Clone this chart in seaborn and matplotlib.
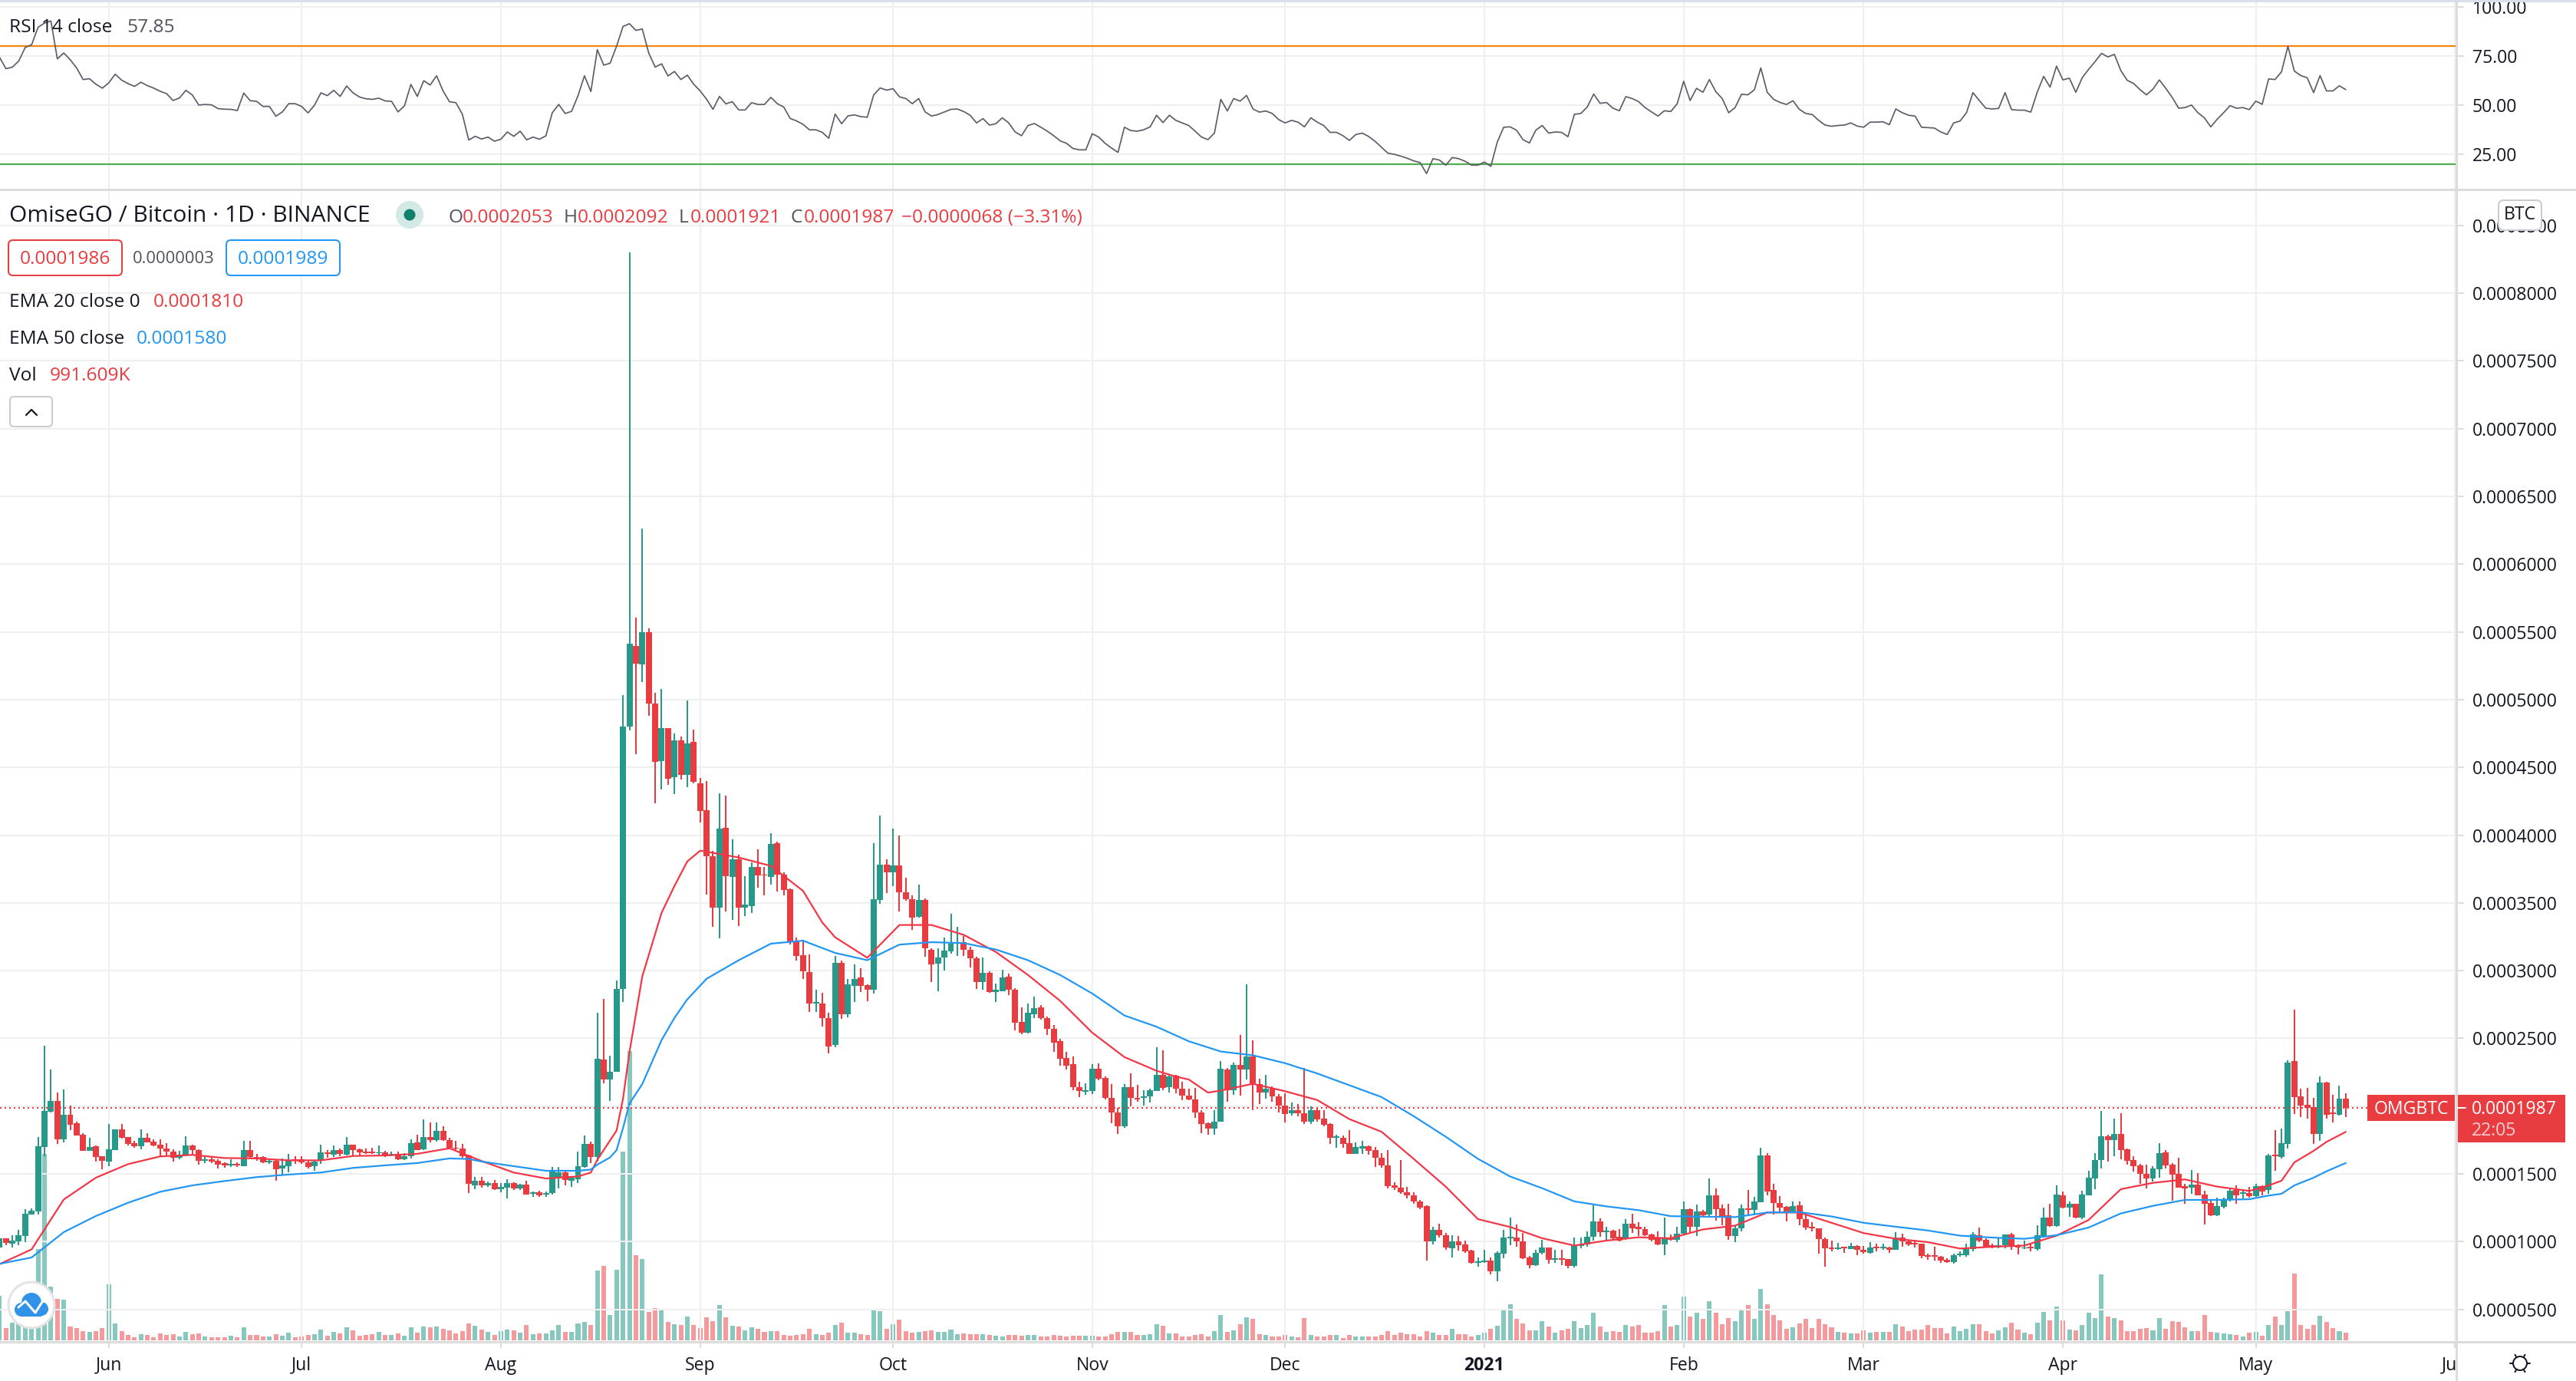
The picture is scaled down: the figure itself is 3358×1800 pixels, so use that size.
"""
OMG/BTC daily chart with EMA, volume and RSI panes
"""
import numpy as np
import pandas as pd
import matplotlib
matplotlib.use('Agg')
import matplotlib.pyplot as plt
from matplotlib.patches import Circle, FancyBboxPatch, Rectangle
from matplotlib.ticker import FuncFormatter
from matplotlib.transforms import Bbox
import seaborn as sns

# prices are in units of 0.0000001 BTC, day 0 is 15 May 2020
candle_open = [
    957,1023,987,1004,1043,1202,1223,1699,1959,2038,
    1755,1935,1874,1787,1670,1704,1632,1591,1674,1827,
    1770,1729,1706,1765,1738,1714,1685,1665,1617,1636,
    1710,1676,1595,1606,1595,1580,1565,1574,1557,1676,
    1627,1623,1585,1598,1542,1559,1602,1606,1587,1557,
    1595,1659,1644,1674,1642,1716,1680,1665,1663,1651,
    1659,1636,1648,1608,1629,1732,1682,1772,1749,1817,
    1751,1693,1689,1634,1415,1449,1413,1430,1389,1398,
    1430,1391,1419,1353,1362,1349,1357,1466,1513,1451,
    1462,1553,1723,1625,2344,2199,2254,2864,4799,5398,
    5261,5499,4972,4546,4791,4430,4701,4445,4690,4384,
    4185,3846,3463,4055,3690,3824,3463,3477,3766,3708,
    3690,3943,3708,3600,3217,3113,2990,2755,2759,2647,
    2449,3059,2680,2885,2947,2893,2860,3521,3781,3727,
    3777,3579,3528,3398,3524,3156,3051,3095,3145,3199,
    3210,3156,3091,2914,2986,2842,2849,2958,2860,2622,
    2542,2680,2727,2651,2571,2477,2358,2308,2142,2106,
    2109,2275,2207,2062,1954,1849,2138,2062,2059,2070,
    2110,2232,2139,2223,2130,2076,2052,1954,1872,1835,
    1885,2269,2117,2304,2271,2366,2162,2102,2132,2074,
    2006,1948,1969,1950,1883,1972,1906,1867,1765,1768,
    1724,1650,1685,1705,1676,1620,1564,1416,1399,1366,
    1344,1299,1260,1002,1086,1045,949,1004,980,936,
    845,847,863,780,913,1025,1032,1004,884,826,
    917,954,867,874,869,819,967,978,1034,1147,
    1069,1080,1036,1019,1130,1112,1095,1054,1032,982,
    1032,1012,1056,1242,1108,1225,1199,1344,1245,1192,
    1040,1097,1241,1232,1291,1637,1380,1287,1255,1222,
    1266,1167,1112,1101,1021,952,943,960,947,968,
    939,918,960,952,958,937,1032,1002,990,987,
    901,899,890,865,850,899,901,943,1049,1015,
    975,962,971,1055,968,949,964,947,1044,1175,
    1116,1340,1251,1279,1179,1344,1466,1602,1778,1749,
    1795,1682,1602,1563,1500,1466,1534,1659,1568,1500,
    1410,1400,1421,1347,1285,1194,1257,1308,1381,1353,
    1359,1336,1410,1381,1636,1625,1721,2333,2072,2010,
    1993,1795,2174,1950,1936,2053]

candle_high = [
    1123,1023,1047,1089,1240,1245,1770,2444,2269,2101,
    2123,2004,1884,1802,1768,1708,1632,1868,1827,1868,
    1774,1742,1829,1802,1753,1753,1725,1680,1670,1776,
    1714,1682,1632,1617,1610,1585,1608,1585,1742,1742,
    1646,1629,1614,1610,1614,1648,1632,1629,1595,1602,
    1716,1678,1708,1689,1770,1718,1685,1689,1693,1712,
    1670,1663,1663,1651,1755,1787,1901,1878,1878,1850,
    1765,1746,1719,1640,1476,1476,1444,1455,1434,1459,
    1436,1425,1447,1372,1378,1368,1553,1549,1530,1481,
    1664,1783,1736,2690,2794,2373,2929,5033,8302,5607,
    6263,5528,5051,5080,4791,4748,4726,4994,4781,4423,
    4402,3882,4311,4293,3968,3853,3698,3799,3893,3766,
    4015,3950,3723,3607,3246,3228,3120,2857,2838,2687,
    3109,3073,2940,3048,3019,2900,3940,4145,3824,4051,
    3997,3687,3557,3636,3535,3163,3167,3246,3420,3326,
    3254,3174,3102,3095,2994,2903,3008,2976,2868,2730,
    2759,2806,2748,2662,2597,2499,2398,2365,2181,2171,
    2308,2315,2217,2163,1990,2163,2243,2156,2120,2127,
    2436,2414,2230,2230,2180,2128,2136,1969,1882,1969,
    2332,2284,2321,2527,2898,2484,2204,2230,2143,2089,
    2093,2028,2013,2284,1998,1989,1969,1876,1791,1785,
    1824,1733,1741,1711,1698,1655,1676,1438,1600,1405,
    1362,1308,1268,1108,1134,1062,1049,1043,1008,939,
    884,939,884,928,1086,1177,1127,1064,895,939,
    1015,954,939,939,874,1030,1032,1073,1268,1173,
    1112,1086,1090,1167,1208,1145,1112,1058,1073,1177,
    1054,1112,1297,1247,1275,1232,1464,1390,1275,1277,
    1120,1272,1380,1329,1694,1652,1424,1334,1260,1295,
    1295,1211,1146,1101,1028,1009,992,964,992,975,
    968,998,987,987,962,1072,1061,1015,1015,987,
    912,964,892,878,911,930,987,1072,1106,1025,
    987,1025,1055,1066,977,1006,987,1123,1249,1277,
    1414,1368,1296,1279,1376,1523,1653,1965,1789,1908,
    1948,1685,1631,1574,1568,1557,1727,1676,1580,1619,
    1427,1529,1506,1376,1302,1325,1325,1387,1415,1387,
    1404,1427,1415,1648,1823,1834,2339,2712,2129,2135,
    2061,2220,2180,2084,2152,2092]

candle_low = [
    957,972,958,972,994,1198,1202,1632,1953,1723,
    1734,1825,1783,1670,1670,1591,1534,1557,1674,1761,
    1712,1693,1682,1731,1704,1632,1636,1591,1610,1632,
    1642,1568,1580,1580,1542,1547,1553,1553,1557,1614,
    1595,1580,1576,1451,1491,1510,1576,1576,1542,1523,
    1576,1621,1623,1629,1636,1636,1636,1648,1648,1642,
    1625,1629,1602,1602,1614,1674,1674,1734,1736,1746,
    1682,1678,1617,1359,1387,1396,1406,1383,1364,1321,
    1383,1383,1345,1330,1332,1330,1345,1391,1415,1406,
    1432,1547,1580,1591,2170,2040,2254,2766,4773,4598,
    5131,4882,4236,4337,4373,4301,4409,4355,4380,4095,
    3560,3326,3239,3438,3373,3329,3405,3427,3615,3557,
    3636,3582,3557,3196,3077,2940,2694,2694,2589,2387,
    2434,2644,2654,2766,2842,2777,2831,3492,3571,3625,
    3434,3517,3300,3391,3102,2918,2849,3001,3124,3109,
    3109,3023,2867,2857,2838,2770,2849,2820,2560,2532,
    2539,2647,2640,2524,2398,2300,2272,2120,2069,2084,
    2091,2192,2048,1875,1795,1838,1997,2033,2005,2026,
    2110,2115,2100,2093,2041,2041,1911,1800,1791,1791,
    1885,2030,2084,2076,2197,1972,2015,2054,2032,1954,
    1878,1928,1926,1867,1867,1885,1854,1722,1692,1692,
    1646,1646,1648,1644,1550,1546,1390,1379,1355,1318,
    1281,1242,863,978,1030,939,882,934,917,837,
    813,841,759,706,878,976,960,873,802,819,
    906,837,841,826,802,808,949,960,1010,1036,
    1015,1015,1004,1015,1064,1043,1043,1004,971,902,
    1008,999,1047,1058,1043,1188,1188,1156,1123,1011,
    994,1078,1200,1200,1291,1340,1200,1220,1148,1211,
    1123,1085,1074,912,817,926,937,918,943,901,
    911,912,926,937,918,937,964,968,956,878,
    867,861,844,844,838,888,888,926,998,956,
    952,952,952,939,907,945,930,935,1038,1112,
    1112,1243,1185,1170,1168,1344,1387,1540,1591,1632,
    1608,1568,1517,1425,1393,1444,1472,1540,1302,1396,
    1279,1353,1340,1126,1189,1189,1245,1296,1279,1319,
    1325,1330,1342,1353,1523,1614,1687,1942,1919,1908,
    1721,1744,1908,1880,1931,1921]

candle_close = [
    1023,991,1006,1045,1204,1226,1702,1963,2038,1755,
    1935,1865,1785,1670,1697,1627,1595,1680,1827,1768,
    1721,1706,1765,1734,1712,1685,1665,1617,1642,1708,
    1674,1595,1602,1591,1568,1565,1572,1561,1676,1625,
    1610,1585,1595,1536,1563,1598,1598,1585,1553,1591,
    1659,1648,1676,1648,1716,1678,1661,1655,1651,1659,
    1636,1648,1608,1629,1725,1678,1772,1749,1817,1749,
    1693,1685,1632,1429,1449,1413,1430,1389,1402,1430,
    1391,1419,1349,1362,1340,1359,1515,1513,1453,1472,
    1557,1721,1625,2350,2199,2252,2867,4799,5412,5264,
    5499,4972,4539,4791,4416,4701,4445,4676,4394,4181,
    3846,3463,4051,3698,3824,3463,3488,3763,3701,3701,
    3936,3708,3597,3217,3109,2997,2755,2766,2647,2441,
    3059,2680,2896,2940,2885,2860,3528,3781,3727,3777,
    3579,3528,3394,3524,3163,3048,3095,3149,3199,3210,
    3152,3091,2914,2986,2842,2857,2950,2857,2618,2542,
    2687,2723,2651,2571,2470,2351,2301,2138,2109,2120,
    2275,2203,2062,1954,1853,2138,2062,2051,2070,2116,
    2232,2136,2217,2128,2076,2050,1952,1867,1835,1887,
    2275,2117,2304,2269,2366,2162,2102,2128,2071,2004,
    1941,1972,1948,1883,1972,1900,1861,1765,1770,1720,
    1650,1696,1705,1670,1618,1561,1412,1399,1364,1344,
    1297,1253,1002,1088,1045,954,1002,971,926,845,
    852,863,780,917,1028,1030,1002,880,826,917,
    954,865,874,865,819,971,980,1036,1147,1069,
    1077,1025,1008,1130,1101,1090,1047,1015,982,1028,
    1015,1060,1242,1108,1225,1193,1344,1242,1184,1040,
    1097,1243,1234,1295,1637,1371,1285,1249,1222,1264,
    1165,1106,1097,1017,949,945,958,949,970,939,
    920,956,952,958,937,1030,1000,981,977,897,
    888,888,863,850,901,905,945,1055,1009,964,
    962,971,1055,968,956,956,949,1049,1175,1116,
    1346,1249,1279,1179,1349,1472,1602,1778,1751,1795,
    1676,1595,1557,1500,1466,1540,1653,1563,1495,1398,
    1395,1421,1342,1279,1194,1262,1313,1376,1342,1359,
    1336,1410,1372,1636,1629,1727,2322,2067,2004,1987,
    1795,2174,1936,1942,2055,1987]

# volume in thousands
volume_k = [
    5775,1551,2310,2640,3960,3960,11814,24090,6930,5379,
    5280,1815,1551,1188,1056,1155,1551,7260,2145,1155,
    660,429,759,660,429,858,660,759,462,1056,
    759,858,462,363,429,363,561,363,1650,660,
    660,462,462,759,561,957,363,462,660,759,
    1353,561,1056,858,1650,1254,561,660,759,1056,
    660,660,858,561,1650,957,1749,1650,1749,1452,
    1254,858,1155,2145,1848,1353,1056,660,1155,1353,
    1254,957,1947,759,858,858,1254,1947,1056,1056,
    2145,2343,1947,8976,9570,3234,9144,24320,37275,10985,
    10541,3683,4191,4064,2413,2096,1969,3112,1969,1588,
    2921,2477,4509,2921,1905,1778,1334,1715,1524,1080,
    1207,1143,699,635,699,826,1524,826,699,1016,
    1969,2286,1016,1016,826,699,4064,3747,1524,2096,
    2667,1207,953,1080,1143,1270,1080,1080,1397,826,
    889,762,826,826,699,635,508,699,699,635,
    699,699,508,445,699,572,508,635,635,635,
    635,508,508,826,1080,1080,1080,699,699,826,
    2096,1905,889,889,531,455,644,834,531,1175,
    3259,1137,1327,2122,2994,2805,834,720,493,531,
    720,493,379,2880,682,493,531,720,644,341,
    720,455,455,455,455,644,1213,644,948,834,
    834,531,1213,985,644,644,1440,834,834,531,
    644,948,1516,1895,3904,4700,2805,2198,1327,1327,
    2426,1819,948,1327,1440,2501,1630,1933,3600,1819,
    1137,1213,1137,2009,1743,1933,1023,948,1213,4510,
    1819,2009,5685,3108,3600,2729,5003,3600,2122,2918,
    2501,3904,4586,2805,6595,4620,3234,2541,1485,1650,
    2145,2739,1551,2739,2079,1650,1056,957,858,924,
    1254,957,1056,1056,1056,2046,1749,1155,1353,1353,
    1947,1551,1551,858,1749,1155,1452,2046,2046,1155,
    858,1254,1650,2244,1353,957,759,2244,3630,2541,
    4323,2541,1353,1254,1947,3531,2838,8481,3036,2838,
    2541,1155,1155,1452,1551,1254,2838,1452,2442,2343,
    1650,1155,1155,3234,1056,957,858,759,660,462,
    957,1056,561,1947,3036,1947,3729,8580,1947,1452,
    1947,3135,2343,1551,1155,992]

rsi_values = [
    74.4,68.5,69.3,72.4,79.3,80.7,89.6,91.7,92.8,73.5,
    76.5,73.1,68.9,63,63.4,60.6,58.6,61.3,65.7,62.7,
    60.9,59.5,61.6,59.9,58.6,57,55.8,52.3,53.6,57.5,
    55.1,50,50.3,50.1,48.2,47.9,47.8,47.2,56.1,52.2,
    51.9,49.3,49.3,44.3,46.5,50.7,50.7,49.3,46,49.9,
    56.2,54.8,57.5,54.4,59.7,56.2,54.1,53.2,52.9,53.5,
    52.1,51.9,46.5,49.6,60.5,54.4,62.4,60.2,64.9,57.2,
    51.7,51.2,45.4,32.2,34.1,32.7,33.7,31.6,32.6,36.3,
    34.1,36.7,32.3,33.7,32.6,34.3,46.1,50.3,45.7,46.8,
    54.8,64.9,56.9,78.2,70.3,71.3,80,90,91.4,88,
    88.7,76.5,69.3,71,64.8,67.1,63,65.2,60.6,57.2,
    53,47.8,54.4,50.6,51.7,47.5,47.5,51.2,50.3,50.3,
    53.9,50.7,49,43.2,41.9,40.2,37.4,37.4,36.1,33.1,
    45.4,40.5,44.5,45,44.1,43.8,55.2,58.7,57.6,58.3,
    54.2,53.3,50.7,53.3,46.5,44.4,45.2,46.5,47.8,48,
    46.7,44.8,40.9,43.1,39.8,40.5,43.5,40.9,36.3,34.4,
    39.6,40.6,38.7,36.7,34.4,31.8,30.5,27.9,27.2,27.2,
    35.4,33.7,30.5,28.1,25.9,38.7,37,36.7,37.4,38.9,
    44.8,41.1,44.8,42.2,40.9,39.6,36.7,33.7,32.4,35.7,
    52.9,47,53.3,52,54.9,48,46.4,47,45.7,42.6,
    40.9,42.2,41.3,38.9,43.5,41.3,39.6,36.1,36.1,34.4,
    32,35,35.7,34,31.5,28.5,25.5,24.9,24,22.9,
    21.6,20.7,15.1,22.7,22,19.4,23.3,22.7,21.4,19.4,
    19.4,21,18.8,31.1,38.7,38.9,37.2,32.4,30.7,37.2,
    39.6,35.7,36.3,36.1,33.9,45.3,45.7,49,55.6,50.9,
    51.3,48.4,47.1,54.3,53.3,51.7,48.7,46.5,44.4,47.1,
    46.7,50.7,62.1,52.3,58.5,56.5,63,56.8,53.3,46.1,
    48.7,55.5,55.2,57.8,68.9,56.5,52.9,51.3,50.3,52.2,
    47.8,45.7,45.2,42.2,39.8,39.2,39.6,39.8,40.9,39.3,
    38.7,41.3,41.3,41.5,40,48,46.1,44.8,44.4,38.7,
    38.5,38.3,36.3,35,40.9,41.9,46.1,56.3,52.3,48.4,
    48,48.3,56.3,47.7,47.4,47.4,46.4,56.5,64.6,59.1,
    69.8,62.8,63.7,56.5,63.9,68.2,72.1,76.3,74.5,75.8,
    67.6,62.6,61,57.8,55.2,58.1,62.8,58.5,53.9,48.4,
    48.7,50,46.1,43.5,38.9,42.8,46.1,49.7,48.4,48.7,
    47.7,52,50.4,63.3,63,66.9,79.9,67.3,65,63.9,
    56.3,65,57.2,57.2,59.8,57.85]

ema20_days = [0,5,10,15,20,25,30,35,40,45,50,55,60,65,70,75,80,85,90,92,93,96,97,98,100,
              103,105,107,109,110,115,120,125,128,130,135,140,145,150,155,160,165,170,175,
              180,183,185,188,190,195,200,205,210,215,220,225,230,235,240,245,250,255,260,
              265,270,275,280,285,290,295,300,305,310,315,320,325,330,335,340,345,350,353,
              355,357,360,362,365]
ema20_values = [834,943,1311,1472,1572,1629,1640,1617,1614,1600,1600,1632,1636,1648,1689,1595,
                1510,1466,1481,1510,1604,1820,2055,2398,2958,3427,3625,3806,3885,3878,3835,
                3773,3589,3355,3246,3095,3337,3337,3264,3138,2968,2777,2542,2362,2261,2218,
                2197,2100,2115,2165,2110,2045,1904,1811,1611,1405,1166,1108,1025,971,1008,
                1032,1025,1090,1118,1215,1215,1139,1063,1021,996,949,962,971,1044,1160,1387,
                1434,1459,1406,1374,1415,1449,1585,1670,1736,1810]

ema50_days = [0,5,10,15,20,25,30,35,40,45,50,55,60,65,70,73,75,80,85,90,92,93,95,96,97,98,100,
              103,105,107,110,115,120,125,130,135,140,145,150,155,160,165,170,175,180,185,190,
              195,200,205,210,215,220,225,230,235,240,245,250,255,260,265,270,275,280,285,290,
              295,300,305,310,315,320,325,330,335,340,345,350,353,355,357,360,362,365]
ema50_values = [836,883,1070,1189,1287,1368,1415,1447,1476,1495,1510,1544,1563,1580,1614,1610,
                1591,1557,1523,1523,1532,1568,1622,1676,1838,2019,2163,2488,2651,2788,2940,
                3077,3199,3221,3131,3077,3192,3210,3203,3156,3077,2968,2831,2669,2586,2479,
                2403,2375,2317,2241,2154,2067,1926,1774,1611,1481,1394,1297,1260,1232,1188,
                1184,1181,1215,1218,1186,1139,1110,1082,1044,1030,1021,1047,1104,1208,1264,
                1308,1308,1313,1340,1353,1415,1472,1519,1580]

month_days = [17, 47, 78, 109, 139, 170, 200, 231, 262, 290, 321, 351, 382]
month_labels = ['Jun', 'Jul', 'Aug', 'Sep', 'Oct', 'Nov', 'Dec', '2021', 'Feb', 'Mar', 'Apr', 'May', 'Jun']
price_ticks = list(range(500, 9000, 500))
rsi_ticks = [25, 50, 75, 100]
last_price = 1987

UP = '#26998a'
DOWN = '#e93c41'
UP_VOL = '#86c8bd'
DOWN_VOL = '#f4999c'
GRID = '#efefef'
EDGE = '#dcdcdc'
TEXT = '#131722'
GREY = '#50535e'
BLUE = '#2196f3'
W, H = 3358, 1800
PX = 0.72  # points per pixel at dpi 100

sns.set_theme(style='white')
plt.rcParams['font.family'] = ['Open Sans', 'DejaVu Sans']

df = pd.DataFrame({'day': np.arange(len(candle_close)), 'open': candle_open, 'high': candle_high,
                   'low': candle_low, 'close': candle_close, 'vol': volume_k, 'rsi': rsi_values})
df['side'] = np.where(df['close'] >= df['open'], 'up', 'down')
candle_colors = df['side'].map({'up': UP, 'down': DOWN}).values


def pane(y_top, y_bottom, right=3202):
    return [0, 1 - y_bottom / H, right / W, (y_bottom - y_top) / H]


fig = plt.figure(figsize=(W / 100, H / 100), dpi=100, facecolor='white')
ax = fig.add_axes(pane(247, 1748.5))
ax_rsi = fig.add_axes(pane(3, 246))
ax_vol = ax.twinx()
ax.set_zorder(ax_vol.get_zorder() + 1)
ax.patch.set_visible(False)

# volume, on its own scale at the bottom of the price pane
sns.barplot(data=df, x='day', y='vol', hue='side', native_scale=True, dodge=False, width=0.72,
            palette={'up': UP_VOL, 'down': DOWN_VOL}, saturation=1, legend=False, ax=ax_vol, linewidth=0)
ax_vol.set_ylim(-150, 148500)
ax_vol.set_yticks([])
ax_vol.set_xlabel('')
ax_vol.set_ylabel('')

# candles
body = np.maximum((df['close'] - df['open']).abs(), 10)
ax.vlines(df['day'], df['low'], df['high'], colors=candle_colors, lw=2 * PX, zorder=3)
ax.bar(df['day'], body, bottom=df[['open', 'close']].min(axis=1), width=0.95, color=candle_colors,
       linewidth=0, zorder=4)

sns.lineplot(x=ema20_days, y=ema20_values, color='#f23645', lw=2.2 * PX, estimator=None, ax=ax, zorder=5)
sns.lineplot(x=ema50_days, y=ema50_values, color=BLUE, lw=2.2 * PX, estimator=None, ax=ax, zorder=5)
ax.axhline(last_price, xmax=3086 / 3202, color=DOWN, lw=2 * PX, ls=(0, (1, 2)), zorder=6)

sns.lineplot(x=df['day'], y=df['rsi'], color='#5b5c69', lw=1.7 * PX, estimator=None, ax=ax_rsi, zorder=3)
ax_rsi.axhline(80, color='#f7860f', lw=2.2 * PX, zorder=2)
ax_rsi.axhline(20, color='#4caf50', lw=2.2 * PX, zorder=2)

for a in (ax, ax_rsi, ax_vol):
    a.set_xlim(0.08, 382.2)
    for s in a.spines.values():
        s.set_visible(False)
ax.set_ylim(263, 8765)
ax_rsi.set_ylim(7.4, 102.3)

for a in (ax, ax_rsi):
    a.set_xlabel('')
    a.set_ylabel('')
    a.yaxis.tick_right()
    a.grid(True, color=GRID, lw=2 * PX, zorder=0)
    a.set_axisbelow(True)
    a.tick_params(axis='y', length=10 * PX, width=2 * PX, color=EDGE, pad=11 * PX,
                  labelsize=23 * PX, labelcolor=TEXT, right=True, left=False)

ax.set_yticks(price_ticks)
ax.yaxis.set_major_formatter(FuncFormatter(lambda v, _: f'{v / 1e7:.7f}'))
ax_rsi.set_yticks(rsi_ticks)
ax_rsi.yaxis.set_major_formatter(FuncFormatter(lambda v, _: f'{v:.2f}'))

ax_rsi.set_xticks(month_days)
ax_rsi.tick_params(axis='x', length=0, labelbottom=False)
ax.set_xticks(month_days, month_labels)
ax.tick_params(axis='x', bottom=True, length=8 * PX, width=2 * PX, color=EDGE, pad=11 * PX,
               labelsize=23 * PX, labelcolor=TEXT)
ax.get_xticklabels()[7].set_fontweight('bold')
last_label = ax.get_xticklabels()[-1]
last_label.set_clip_on(True)
last_label.set_clip_box(Bbox.from_extents(0, 0, 3202, 60))

# everything else sits on an overlay in pixel coordinates
ov = fig.add_axes([0, 0, 1, 1], zorder=10)
ov.set_xlim(0, W)
ov.set_ylim(H, 0)
ov.axis('off')
ov.patch.set_visible(False)


def txt(x, y, s, color=TEXT, size=24.5, ha='left', **kw):
    return ov.text(x, y + 2.5, s, color=color, fontsize=size * PX, ha=ha, va='center', **kw)


def box(x0, y0, x1, y1, face, edge, r=5, lw=2):
    p = FancyBboxPatch((x0 + r, y0 + r), x1 - x0 - 2 * r, y1 - y0 - 2 * r, boxstyle=f'round,pad={r},rounding_size={r}',
                       fc=face, ec=edge, lw=lw * PX)
    ov.add_patch(p)


# frame lines
ov.add_patch(Rectangle((0, 0), W, 2.5, fc='#d8deea', ec='none'))
ov.plot([0, W], [247, 247], color=EDGE, lw=3 * PX)
ov.plot([0, W], [1748.5, 1748.5], color=EDGE, lw=3 * PX)
ov.plot([3202, 3202], [2, H], color=EDGE, lw=3 * PX)

# legend block
txt(12, 33, 'RSI 14 close')
txt(165, 33, '57.85', color=GREY)
txt(12, 279, 'OmiseGO / Bitcoin · 1D · BINANCE', size=30)
ov.add_patch(Circle((534, 280), 18, fc='#d3e9e5', ec='none'))
ov.add_patch(Circle((534, 280), 7.5, fc='#11806f', ec='none'))
for x_l, letter, x_v, value in [(584, 'O', 603, '0.0002053'), (735, 'H', 753, '0.0002092'),
                                (885, 'L', 900, '0.0001921'), (1030, 'C', 1048, '0.0001987')]:
    txt(x_l, 282, letter, color=GREY)
    txt(x_v, 282, value, color=DOWN)
txt(1175, 282, '−0.0000068 (−3.31%)', color=DOWN)

box(11, 313, 159, 359, 'white', DOWN, r=6)
txt(85, 335, '0.0001986', color=DOWN, ha='center')
txt(226, 335, '0.0000003', color=GREY, ha='center', size=22)
box(295, 313, 443, 359, 'white', BLUE, r=6)
txt(369, 335, '0.0001989', color=BLUE, ha='center')

txt(12, 392, 'EMA 20 close 0')
txt(200, 392, '0.0001810', color=DOWN)
txt(12, 440, 'EMA 50 close')
txt(178, 440, '0.0001580', color=BLUE)
txt(12, 488, 'Vol')
txt(65, 488, '991.609K', color=DOWN)
box(13, 517, 68, 556, 'white', '#c8cbd2', r=5)
ov.plot([34, 41, 48], [541, 534, 541], color=TEXT, lw=2.2 * PX)

# scale button on the price axis
box(3257, 261, 3313, 300, 'white', '#c8cbd2', r=7)
txt(3285, 278, 'BTC', ha='center', size=23)

# last price tags
ov.add_patch(Rectangle((3086, 1427), 114, 34, fc=DOWN, ec='none'))
txt(3143, 1443, 'OMGBTC', color='white', ha='center', size=23)
ov.add_patch(Rectangle((3204, 1427), 140, 62, fc=DOWN, ec='none'))
ov.plot([3204, 3214], [1444, 1444], color='white', lw=2 * PX)
txt(3222, 1443, '0.0001987', color='white', size=23)
txt(3222, 1472, '22:05', color='#fbcfd1', size=23)

# logo badge
ov.add_patch(Circle((41, 1701), 30, fc='white', ec='#e3e3e3', lw=3 * PX))
for cx, cy, r in [(28, 1707, 9), (41, 1698, 13), (54, 1706, 9)]:
    ov.add_patch(Circle((cx, cy), r, fc='#3192ea', ec='none'))
ov.add_patch(Rectangle((28, 1704), 26, 12, fc='#3192ea', ec='none'))
ov.plot([24, 33, 46, 55], [1704, 1696, 1711, 1697], color='white', lw=3 * PX)

# gear
ov.add_patch(Circle((3285, 1777), 9, fc='none', ec=TEXT, lw=2 * PX))
for ang in np.arange(0, 360, 60):
    dx, dy = np.cos(np.radians(ang)), np.sin(np.radians(ang))
    ov.plot([3285 + 9 * dx, 3285 + 13 * dx], [1777 + 9 * dy, 1777 + 13 * dy], color=TEXT, lw=2 * PX)

fig.savefig('out.png', dpi=100)
